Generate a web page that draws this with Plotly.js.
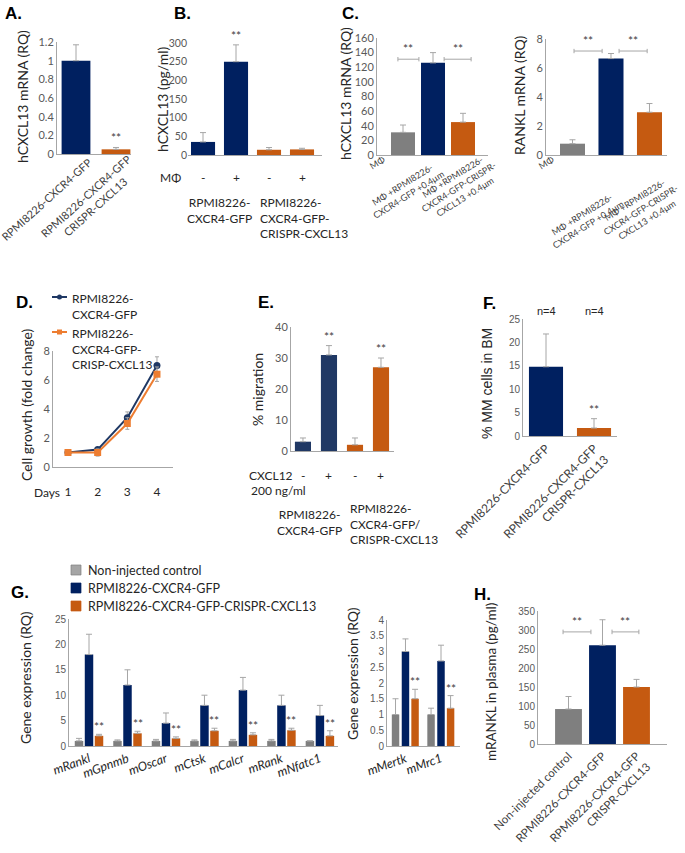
<!DOCTYPE html>
<html><head><meta charset="utf-8">
<script src="https://cdn.plot.ly/plotly-3.0.1.min.js"></script>
<style>html,body{margin:0;padding:0;background:#fff}#plot{width:685px;height:853px}</style>
</head><body><div id="plot"></div>
<script>
// ---------- DATA ----------
// A
const aCats = ['RPMI8226-CXCR4-GFP', 'RPMI8226-CXCR4-GFP<br>CRISPR-CXCL13'];
const aVals = [1.0, 0.05];
const aErr = [0.17, 0.02];
const aSig = ['', '**'];
// B
const bCond = ['-', '+', '-', '+'];
const bVals = [35, 250, 14, 15];
const bErr = [25, 45, 6, 3];
const bSig = ['', '**', '', ''];
const bGroups = ['RPMI8226-<br>CXCR4-GFP', 'RPMI8226-<br>CXCR4-GFP-<br>CRISPR-CXCL13'];
// C
const cCats = ['MΦ', 'MΦ +RPMI8226-<br>CXCR4-GFP +0.4μm', 'MΦ +RPMI8226-<br>CXCR4-GFP-CRISPR-<br>CXCL13 +0.4μm'];
const cCxcl13 = [31, 126, 45];
const cCxcl13Err = [10, 14, 12];
const cRankl = [0.78, 6.65, 2.95];
const cRanklErr = [0.27, 0.35, 0.6];
// D
const dDays = [1, 2, 3, 4];
const dGfp = [1.0, 1.2, 3.4, 7.0];
const dGfpErr = [0.05, 0.1, 0.4, 0.6];
const dCrispr = [1.0, 1.0, 3.0, 6.4];
const dCrisprErr = [0.05, 0.25, 0.4, 0.5];
const dNames = ['RPMI8226-<br>CXCR4-GFP', 'RPMI8226-<br>CXCR4-GFP-<br>CRISP-CXCL13'];
// E
const eCond = ['-', '+', '-', '+'];
const eVals = [3, 31, 2, 27];
const eErr = [1.2, 3, 2.2, 3];
const eSig = ['', '**', '', '**'];
const eGroups = ['RPMI8226-<br>CXCR4-GFP', 'RPMI8226-<br>CXCR4-GFP/<br>CRISPR-CXCL13'];
// F
const fCats = ['RPMI8226-CXCR4-GFP', 'RPMI8226-CXCR4-GFP<br>CRISPR-CXCL13'];
const fVals = [14.8, 1.7];
const fErr = [7, 2];
const fSig = ['', '**'];
const fN = ['n=4', 'n=4'];
// G
const gSeries = ['Non-injected control', 'RPMI8226-CXCR4-GFP', 'RPMI8226-CXCR4-GFP-CRISPR-CXCL13'];
const gGenes = ['mRankl', 'mGpnmb', 'mOscar', 'mCtsk', 'mCalcr', 'mRank', 'mNfatc1'];
const gCtrl = [1, 1, 1, 1, 1, 1, 1];
const gCtrlErr = [0.5, 0.2, 0.3, 0.2, 0.3, 0.3, 0];
const gGfp = [18, 12, 4.5, 8, 11, 8, 6];
const gGfpErr = [4, 3, 2, 2, 2.5, 2, 2];
const gCrispr = [2, 2.5, 1.5, 3, 2.2, 3.1, 2];
const gCrisprErr = [0.3, 0.4, 0.3, 0.5, 0.4, 0.4, 1];
const gGenes2 = ['mMertk', 'mMrc1'];
const gCtrl2 = [1, 1];
const gCtrl2Err = [0.5, 0.2];
const gGfp2 = [3, 2.7];
const gGfp2Err = [0.4, 0.5];
const gCrispr2 = [1.5, 1.2];
const gCrispr2Err = [0.3, 0.4];
// H
const hCats = ['Non-injected control', 'RPMI8226-CXCR4-GFP', 'RPMI8226-CXCR4-GFP<br>CRISPR-CXCL13'];
const hVals = [92, 260, 150];
const hErr = [33, 67, 20];

// ---------- STYLE ----------
const W = 685, H = 853;
const NAVY = '#002060', ORANGE = '#c55a11', GRAY = '#7f7f7f', ENAVY = '#203864';
const DNAVY = '#1f3864', DORANGE = '#ed7d31';
const ERRC = '#a6a6a6';
const FONT = 'Lato, "Open Sans", sans-serif';
const ARIAL = '"Liberation Sans", Arial, sans-serif';
const TICKF = {family: FONT, size: 11, color: '#595959'};
const TITLEF = {family: FONT, size: 14, color: '#262626'};
const dom = (a, b) => [a / W, b / W];
const ydom = (top, bot) => [1 - bot / H, 1 - top / H];
const PX = p => p / W, PY = p => 1 - p / H;
const zeros = n => new Array(n).fill(0);

function xax(d, r, extra) {
  return Object.assign({domain: d, range: r, showgrid: false, zeroline: false, showline: true,
    linecolor: '#a6a6a6', linewidth: 1, ticks: '', tickfont: TICKF, fixedrange: true}, extra || {});
}
function yax(d, r, dt, extra) {
  return Object.assign({domain: d, range: r, dtick: dt, showgrid: false, zeroline: false, showline: true,
    linecolor: '#a6a6a6', linewidth: 1, ticks: '', tickfont: TICKF, fixedrange: true}, extra || {});
}
function bar(x, y, err, colors, xa, ya, width, extra) {
  return Object.assign({type: 'bar', x: x, y: y, xaxis: xa, yaxis: ya, width: width,
    marker: {color: colors, line: {width: 0}},
    error_y: {type: 'data', symmetric: false, array: err, arrayminus: zeros(y.length), color: ERRC, thickness: 1, width: 3},
    showlegend: false, hoverinfo: 'none'}, extra || {});
}
const idx = n => [...Array(n).keys()];

const traces = [];
traces.push(bar(aCats, aVals, aErr, [NAVY, ORANGE], 'x', 'y', 0.72));
traces.push(bar(idx(4), bVals, bErr, [NAVY, NAVY, ORANGE, ORANGE], 'x2', 'y2', 0.73));
traces.push(bar(cCats, cCxcl13, cCxcl13Err, [GRAY, NAVY, ORANGE], 'x3', 'y3', 0.8));
traces.push(bar(cCats, cRankl, cRanklErr, [GRAY, NAVY, ORANGE], 'x4', 'y4', 0.65));
traces.push({type: 'scatter', mode: 'lines+markers', x: dDays, y: dGfp, xaxis: 'x5', yaxis: 'y5',
  line: {color: DNAVY, width: 2}, marker: {symbol: 'circle', size: 7, color: DNAVY},
  error_y: {type: 'data', array: dGfpErr, color: ERRC, thickness: 1, width: 2}, showlegend: false, hoverinfo: 'none'});
traces.push({type: 'scatter', mode: 'lines+markers', x: dDays, y: dCrispr, xaxis: 'x5', yaxis: 'y5',
  line: {color: DORANGE, width: 2}, marker: {symbol: 'square', size: 7, color: DORANGE},
  error_y: {type: 'data', array: dCrisprErr, color: ERRC, thickness: 1, width: 2}, showlegend: false, hoverinfo: 'none'});
traces.push(bar(idx(4), eVals, eErr, [ENAVY, ENAVY, ORANGE, ORANGE], 'x6', 'y6', 0.62));
traces.push(bar(fCats, fVals, fErr, [NAVY, ORANGE], 'x7', 'y7', 0.71));
const gW = 0.22, gOff = [-0.37, -0.11, 0.15];
const gCols = [GRAY, NAVY, ORANGE];
[[gCtrl, gCtrlErr], [gGfp, gGfpErr], [gCrispr, gCrisprErr]].forEach((s, k) => {
  traces.push(bar(gGenes, s[0], s[1], gCols[k], 'x8', 'y8', gW, {offset: gOff[k], name: gSeries[k]}));
});
const g2W = 0.21, g2Off = [-0.385, -0.105, 0.165];
[[gCtrl2, gCtrl2Err], [gGfp2, gGfp2Err], [gCrispr2, gCrispr2Err]].forEach((s, k) => {
  traces.push(bar(gGenes2, s[0], s[1], gCols[k], 'x9', 'y9', g2W, {offset: g2Off[k], name: gSeries[k]}));
});
traces.push(bar(hCats, hVals, hErr, [GRAY, NAVY, ORANGE], 'x10', 'y10', 0.79));

// ---------- ANNOTATIONS / SHAPES ----------
const ann = [];
const shapes = [];
const starF = {family: FONT, size: 12, color: '#404040'};
function star(xref, yref, x, y, shift) {
  ann.push({xref: xref, yref: yref, x: x, y: y, text: '**', showarrow: false, font: starF, yanchor: 'bottom', yshift: shift || 0});
}
function label(t, px, py) {
  ann.push({xref: 'paper', yref: 'paper', x: PX(px), y: PY(py), text: '<b>' + t + '</b>', showarrow: false,
    font: {family: ARIAL, size: 17, color: '#000'}, xanchor: 'center', yanchor: 'middle'});
}
function txt(t, xref, x, py, xanchor, align, font) {
  ann.push({xref: xref, yref: 'paper', x: x, y: PY(py), text: t, showarrow: false, xanchor: xanchor || 'center',
    yanchor: 'top', align: align || 'center', font: font || {family: FONT, size: 12, color: '#262626'}});
}
function ytitle(t, px, py, font) {
  ann.push({xref: 'paper', yref: 'paper', x: PX(px), y: PY(py), text: t, showarrow: false, textangle: -90,
    xanchor: 'center', yanchor: 'middle', font: font || TITLEF});
}
function rot(t, px, py, ang, size) {
  ann.push({xref: 'paper', yref: 'paper', x: PX(px), y: PY(py), text: t, showarrow: false, textangle: ang,
    xanchor: 'center', yanchor: 'middle', align: 'center', font: {family: FONT, size: size || 9, color: '#404040'}});
}
label('A.', 13, 14); label('B.', 182, 14); label('C.', 350, 14); label('D.', 25, 302);
label('E.', 266, 302); label('F.', 489, 303); label('G.', 20, 592); label('H.', 482, 594);

ytitle('hCXCL13 mRNA (RQ)', 23, 97);
ytitle('hCXCL13 (pg/ml)', 162, 99);
ytitle('hCXCL13 mRNA (RQ)', 346, 94);
ytitle('RANKL mRNA (RQ)', 520, 96);
ytitle('Cell growth (fold change)', 27, 405);
ytitle('% migration', 257, 390);
ytitle('% MM cells in BM', 487, 384, {family: ARIAL, size: 14, color: '#262626'});
ytitle('Gene expression (RQ)', 25, 678);
ytitle('Gene expression (RQ)', 352, 674);
ytitle('mRANKL in plasma (pg/ml)', 491, 682, {family: FONT, size: 13.5, color: '#262626'});

// rotated category labels (Excel-style placement)
const cLeftPos = [[377, 162], [406, 190], [458, 187]];
const cRightPos = [[546, 162], [585, 219], [640, 210]];
cCats.forEach((c, i) => { rot(c, cLeftPos[i][0], cLeftPos[i][1], -32); rot(c, cRightPos[i][0], cRightPos[i][1], -32); });
const aPos = [[46, 199], [90, 201]];
aCats.forEach((c, i) => rot(c, aPos[i][0], aPos[i][1], -42, 11));

aSig.forEach((s, i) => { if (s) star('x', 'y', i, aVals[i] + aErr[i], 0); });
bSig.forEach((s, i) => { if (s) star('x2', 'y2', i, bVals[i] + bErr[i], 0); });
eSig.forEach((s, i) => { if (s) star('x6', 'y6', i, eVals[i] + eErr[i], 0); });
fSig.forEach((s, i) => { if (s) star('x7', 'y7', i, fVals[i] + fErr[i], 0); });
gGenes.forEach((g, i) => star('x8', 'y8', i + gOff[2] + gW / 2, gCrispr[i] + gCrisprErr[i], -2));
gGenes2.forEach((g, i) => star('x9', 'y9', i + g2Off[2] + g2W / 2, gCrispr2[i] + gCrispr2Err[i], -2));

// B condition row + groups
txt('MΦ', 'paper', PX(170), 168, 'center');
bCond.forEach((c, i) => txt(c, 'x2', i, 168, 'center'));
txt(bGroups[0], 'x2', 0.5, 193, 'center', 'center');
txt(bGroups[1], 'x2', 1.66, 193, 'left', 'left');
// E condition row + groups
txt('CXCL12', 'paper', PX(247), 466, 'left');
txt('200 ng/ml', 'paper', PX(249), 481, 'left', 'left');
eCond.forEach((c, i) => txt(c, 'x6', i, 466, 'center'));
txt(eGroups[0], 'x6', 0.27, 505, 'center', 'center');
txt(eGroups[1], 'x6', 1.73, 499, 'left', 'left');
// F n labels
fN.forEach((n, i) => txt(n, 'x7', i, 303, 'center', 'center', {family: ARIAL, size: 11, color: '#262626'}));
// D days
txt('Days', 'paper', PX(32), 483, 'left');

// D legend (Excel style)
const legF = {family: FONT, size: 12, color: '#262626'};
[[DNAVY, 'circle', 297], [DORANGE, 'square', 332]].forEach((s, k) => {
  shapes.push({type: 'line', xref: 'paper', yref: 'paper', x0: PX(52), x1: PX(67), y0: PY(s[2]), y1: PY(s[2]), line: {color: s[0], width: 2}});
  shapes.push({type: s[1] === 'circle' ? 'circle' : 'rect', xref: 'paper', yref: 'paper',
    x0: PX(57), x1: PX(62), y0: PY(s[2] + 2.5), y1: PY(s[2] - 2.5), fillcolor: s[0], line: {width: 0}});
  ann.push({xref: 'paper', yref: 'paper', x: PX(70), y: PY(s[2] - 8), text: dNames[k], showarrow: false,
    xanchor: 'left', yanchor: 'top', align: 'left', font: legF});
});
// G legend
const gLegCols = ['#a5a5a5', NAVY, ORANGE];
gSeries.forEach((s, k) => {
  const yc = 570 + 18 * k;
  shapes.push({type: 'rect', xref: 'paper', yref: 'paper', x0: PX(71), x1: PX(81), y0: PY(yc + 5), y1: PY(yc - 5),
    fillcolor: gLegCols[k], line: {color: k === 0 ? '#7f7f7f' : gLegCols[k], width: 0.7}});
  ann.push({xref: 'paper', yref: 'paper', x: PX(86), y: PY(yc), text: s, showarrow: false,
    xanchor: 'left', yanchor: 'middle', align: 'left', font: {family: FONT, size: 12.5, color: '#262626'}});
});

// significance brackets
function bracket(xref, yref, x0, x1, y, dy) {
  const ln = {color: ERRC, width: 1};
  shapes.push({type: 'line', xref: xref, yref: yref, x0: x0, x1: x1, y0: y, y1: y, line: ln});
  shapes.push({type: 'line', xref: xref, yref: yref, x0: x0, x1: x0, y0: y - dy, y1: y + dy, line: ln});
  shapes.push({type: 'line', xref: xref, yref: yref, x0: x1, x1: x1, y0: y - dy, y1: y + dy, line: ln});
  star(xref, yref, (x0 + x1) / 2, y, 1);
}
bracket('x3', 'y3', -0.17, 0.53, 131, 3);
bracket('x3', 'y3', 1.37, 2.27, 131, 3);
bracket('x4', 'y4', 0.04, 0.77, 7.17, 0.15);
bracket('x4', 'y4', 1.21, 1.94, 7.17, 0.15);
bracket('x10', 'y10', -0.16, 0.66, 295, 6);
bracket('x10', 'y10', 1.28, 2.07, 295, 6);

const layout = {
  width: W, height: H, margin: {l: 0, r: 0, t: 0, b: 0}, paper_bgcolor: '#fff', plot_bgcolor: 'rgba(0,0,0,0)',
  barmode: 'group', font: {family: FONT}, showlegend: false,
  xaxis: xax(dom(57, 131), [-0.475, 1.375], {anchor: 'y', showticklabels: false}),
  yaxis: yax(ydom(42, 154), [0, 1.2], 0.2, {anchor: 'x'}),
  xaxis2: xax(dom(188, 322), [-0.455, 3.606], {anchor: 'y2', showticklabels: false}),
  yaxis2: yax(ydom(43, 155), [0, 300], 50, {anchor: 'x2', showline: false, tickfont: {family: FONT, size: 10.5, color: '#595959'}}),
  xaxis3: xax(dom(377, 488), [-0.867, 2.833], {anchor: 'y3', showticklabels: false}),
  yaxis3: yax(ydom(38, 155), [0, 160], 20, {anchor: 'x3'}),
  xaxis4: xax(dom(546, 667), [-0.688, 2.455], {anchor: 'y4', showticklabels: false}),
  yaxis4: yax(ydom(39, 155), [0, 8], 2, {anchor: 'x4'}),
  xaxis5: xax(dom(53, 173), [0.495, 4.54], {anchor: 'y5', tickvals: dDays, ticklabelstandoff: 14,
    tickfont: {family: FONT, size: 12, color: '#262626'}}),
  yaxis5: yax(ydom(351, 467), [0, 8], 2, {anchor: 'x5'}),
  xaxis6: xax(dom(291, 394), [-0.46, 3.5], {anchor: 'y6', showticklabels: false}),
  yaxis6: yax(ydom(327, 451), [0, 40], 10, {anchor: 'x6'}),
  xaxis7: xax(dom(523, 617), [-0.479, 1.479], {anchor: 'y7', tickangle: -45, tickfont: {family: FONT, size: 12, color: '#404040'}}),
  yaxis7: yax(ydom(319, 436), [0, 25], 5, {anchor: 'x7', tickfont: {family: ARIAL, size: 10, color: '#595959'}}),
  xaxis8: xax(dom(69, 338), [-0.52, 6.47], {anchor: 'y8', tickangle: -20,
    tickfont: {family: FONT, size: 12.5, color: '#262626', style: 'italic'}}),
  yaxis8: yax(ydom(619, 746), [0, 25], 5, {anchor: 'x8', tickfont: {family: ARIAL, size: 10, color: '#595959'}}),
  xaxis9: xax(dom(387, 460), [-0.52, 1.535], {anchor: 'y9', tickangle: -20,
    tickfont: {family: FONT, size: 12.5, color: '#262626', style: 'italic'}}),
  yaxis9: yax(ydom(620, 746), [0, 4], 0.5, {anchor: 'x9', tickfont: {family: ARIAL, size: 10, color: '#595959'}}),
  xaxis10: xax(dom(538, 667), [-0.897, 2.897], {anchor: 'y10', tickangle: -45, tickfont: {family: FONT, size: 11.5, color: '#404040'}}),
  yaxis10: yax(ydom(611, 744), [0, 350], 50, {anchor: 'x10', tickfont: {family: ARIAL, size: 10, color: '#595959'}}),
  annotations: ann, shapes: shapes
};
Plotly.newPlot('plot', traces, layout, {staticPlot: true, displayModeBar: false});
</script></body></html>
